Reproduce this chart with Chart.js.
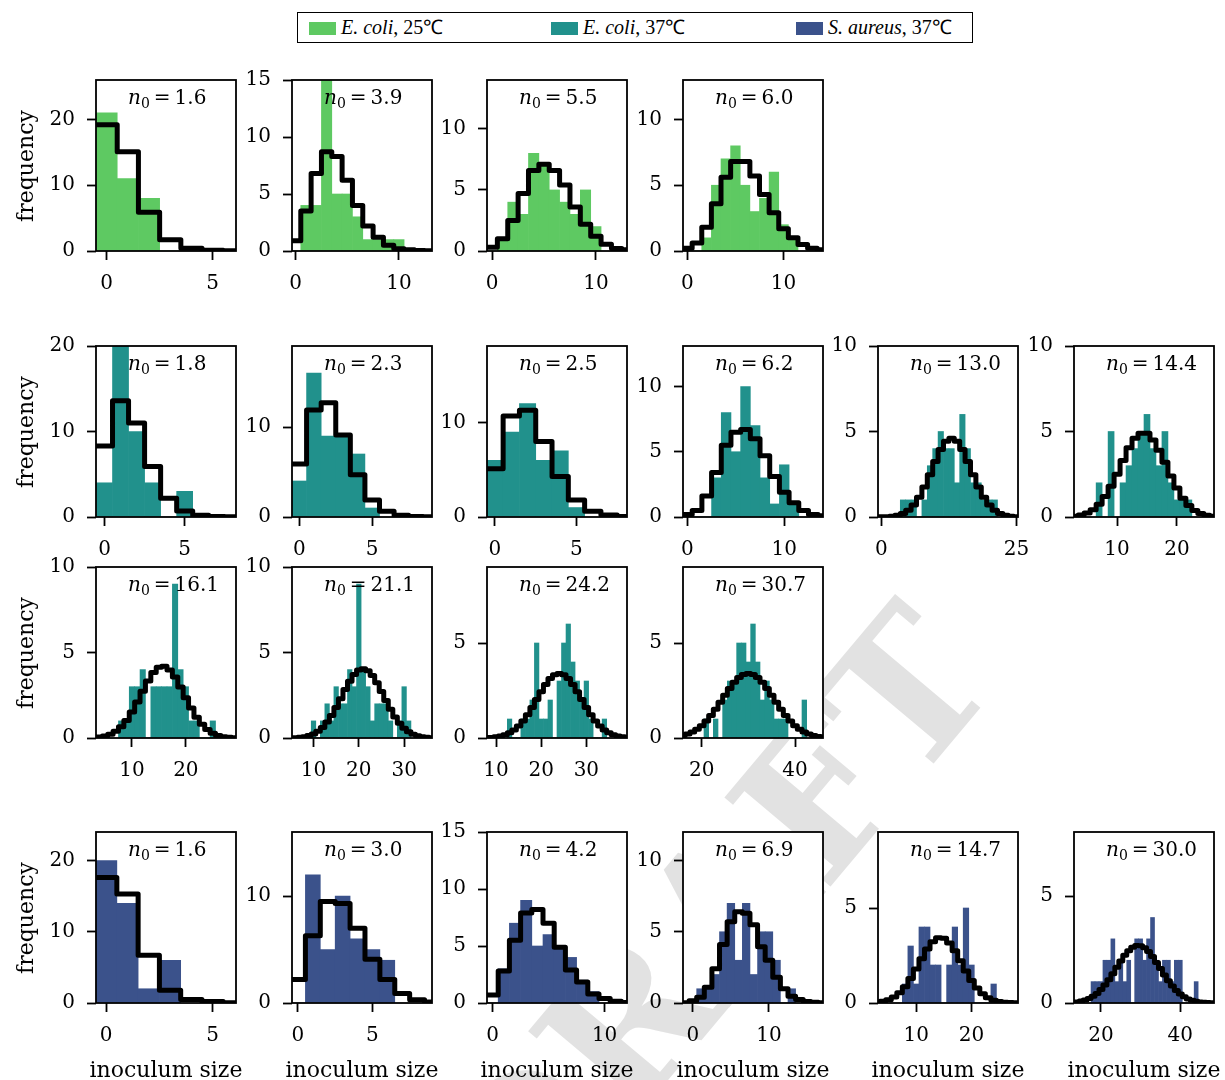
<!DOCTYPE html>
<html>
<head>
<meta charset="utf-8">
<script src="https://cdn.jsdelivr.net/npm/chart.js@4.4.1/dist/chart.umd.min.js"></script>
<style>
  html, body { margin: 0; padding: 0; background: #fff; }
  body { width: 1225px; height: 1080px; position: relative; overflow: hidden; font-family: "DejaVu Serif", serif; color: #000; }
  #watermark { position: absolute; left: 712px; top: 925px; transform: translate(-50%, -50%) rotate(-50deg);
               font: bold 190px "DejaVu Serif", serif; color: #e2e2e2; white-space: nowrap; line-height: 1; z-index: 0; }
  canvas.panel { position: absolute; z-index: 1; }
  .ylab { position: absolute; left: 25px; transform: translate(-50%, -50%) rotate(-90deg); font-size: 22px; white-space: nowrap; z-index: 2; }
  .xlab { position: absolute; top: 1069px; transform: translate(-50%, -50%); font-size: 22px; white-space: nowrap; z-index: 2; }
  #legend { position: absolute; left: 297px; top: 12px; width: 674px; height: 29px; border: 1.6px solid #000; background: #fff; z-index: 2;
            font-family: "Liberation Serif", serif; font-size: 20px; }
  #legend .item { position: absolute; top: 0; height: 29px; line-height: 29px; white-space: nowrap; }
  #legend .sw { display: inline-block; width: 27px; height: 13px; vertical-align: -1px; margin-right: 5px; }
</style>
</head>
<body>
<div id="watermark">DRAFT</div>
<div id="legend"></div>

<script>
// E. coli, 25 C  (row 1)
const ecoli25N0 = [1.6, 3.9, 5.5, 6.0];
const ecoli25CountStart = [0, 0, 0, 0];
const ecoli25Counts = [
  [21, 11, 8, 0],
  [0, 4, 4, 15, 5, 5, 3, 1, 1, 1, 1],
  [0, 1, 4, 3, 8, 7, 5, 4, 3, 5, 2],
  [0, 0, 1, 5, 7, 8, 5, 3, 4, 6, 2, 1]
];
const ecoli25FitStart = [0, 0, 0, 0];
const ecoli25Fit = [
  [19.2, 15.1, 5.9, 1.7, 0.4, 0.1, 0.05],
  [0.9, 3.5, 6.8, 8.7, 8.3, 6.2, 4.0, 2.2, 1.2, 0.5, 0.2, 0.1, 0.05, 0.02],
  [0.3, 1.0, 2.5, 4.7, 6.6, 7.1, 6.6, 5.4, 3.6, 2.2, 1.2, 0.55, 0.2, 0.1],
  [0.2, 0.6, 1.8, 3.6, 5.6, 6.8, 6.8, 5.7, 4.3, 2.9, 1.7, 1.0, 0.5, 0.2, 0.1]
];
const ecoli25XRange = [[-0.5, 6.1], [-0.35, 13.2], [-0.5, 13.0], [-0.45, 14.1]];
const ecoli25YMax = [26, 15, 14, 13];
const ecoli25XTicks = [[0, 5], [0, 10], [0, 10], [0, 10]];
const ecoli25YTicks = [[0, 10, 20], [0, 5, 10, 15], [0, 5, 10], [0, 5, 10]];

// E. coli, 37 C  (rows 2 and 3)
const ecoli37N0 = [1.8, 2.3, 2.5, 6.2, 13.0, 14.4, 16.1, 21.1, 24.2, 30.7];
const ecoli37CountStart = [0, 0, 0, 0, 4, 7, 8, 10, 13, 21];
const ecoli37Counts = [
  [4, 20, 10, 4, 0, 3],
  [4, 16, 9, 9, 7, 1],
  [6, 9, 12, 6, 7, 1],
  [0, 0, 0, 3, 8, 5, 10, 7, 3, 1, 4, 1],
  [1, 1, 1, 0, 1, 3, 4, 5, 4, 4, 2, 6, 4, 2, 2, 1, 1, 1],
  [2, 0, 5, 0, 2, 3, 4, 5, 6, 4, 3, 5, 2, 1, 1, 1],
  [1, 1, 3, 3, 4, 0, 3, 3, 3, 3, 9, 4, 3, 1, 1, 0, 0, 1],
  [1, 0, 1, 2, 1, 3, 2, 2, 4, 3, 9, 4, 3, 1, 2, 2, 2, 1, 0, 1, 3, 1],
  [1, 0, 0, 1, 1, 2, 5, 1, 1, 2, 0, 3, 5, 6, 4, 3, 2, 3, 1, 0, 0, 1],
  [1, 0, 1, 0, 2, 3, 3, 5, 5, 4, 6, 4, 2, 3, 2, 1, 1, 1, 0, 0, 0, 2]
];
const ecoli37FitStart = [0, 0, 0, 0, 0, 3, 4, 6, 8, 16];
const ecoli37Fit = [
  [8.3, 13.6, 11.0, 5.9, 2.2, 0.7, 0.2, 0.05, 0.02],
  [5.9, 11.9, 12.7, 9.1, 4.7, 1.9, 0.65, 0.2, 0.05, 0.02],
  [5.1, 10.7, 11.3, 8.0, 4.3, 1.8, 0.6, 0.2, 0.05],
  [0.2, 0.5, 1.6, 3.4, 5.5, 6.5, 6.7, 6.0, 4.7, 3.1, 1.9, 1.1, 0.5, 0.2, 0.1],
  [0.01, 0.02, 0.04, 0.10, 0.20, 0.39, 0.70, 1.15, 1.76, 2.47, 3.24, 3.95, 4.43, 4.6, 4.43, 3.95, 3.24, 2.47, 1.76, 1.15, 0.70, 0.39, 0.20, 0.10, 0.04, 0.02],
  [0.05, 0.12, 0.23, 0.43, 0.75, 1.2, 1.8, 2.5, 3.3, 4.05, 4.6, 4.9, 4.9, 4.5, 3.9, 3.2, 2.4, 1.7, 1.1, 0.67, 0.38, 0.2, 0.1, 0.05],
  [0.06, 0.12, 0.22, 0.39, 0.66, 1.03, 1.52, 2.1, 2.74, 3.34, 3.83, 4.14, 4.19, 3.98, 3.56, 2.98, 2.35, 1.75, 1.22, 0.80, 0.49, 0.28, 0.15, 0.08, 0.04, 0.02],
  [0.02, 0.04, 0.08, 0.14, 0.24, 0.40, 0.62, 0.93, 1.32, 1.78, 2.29, 2.83, 3.32, 3.72, 3.97, 4.05, 3.94, 3.65, 3.23, 2.72, 2.19, 1.68, 1.23, 0.86, 0.57, 0.36, 0.22, 0.13, 0.07, 0.04, 0.02],
  [0.02, 0.03, 0.06, 0.10, 0.17, 0.27, 0.42, 0.63, 0.90, 1.23, 1.61, 2.02, 2.44, 2.82, 3.13, 3.33, 3.4, 3.33, 3.13, 2.82, 2.44, 2.02, 1.61, 1.23, 0.90, 0.63, 0.42, 0.27, 0.17, 0.10, 0.06, 0.03],
  [0.13, 0.21, 0.31, 0.46, 0.65, 0.89, 1.18, 1.51, 1.88, 2.25, 2.61, 2.93, 3.18, 3.34, 3.4, 3.34, 3.18, 2.93, 2.61, 2.25, 1.88, 1.51, 1.18, 0.89, 0.65, 0.46, 0.31, 0.21, 0.13, 0.08, 0.05]
];
const ecoli37XRange = [[-0.53, 8.2], [-0.5, 9.1], [-0.49, 8.1], [-0.45, 14.0], [-0.63, 25.3], [2.8, 26.2], [3.33, 29.3], [5.25, 36.15], [8.0, 39.0], [16.0, 46.0]];
const ecoli37YMax = [20, 19, 18.1, 13.1, 10, 10, 10, 10, 9, 9];
const ecoli37XTicks = [[0, 5], [0, 5], [0, 5], [0, 10], [0, 25], [10, 20], [10, 20], [10, 20, 30], [10, 20, 30], [20, 40]];
const ecoli37YTicks = [[0, 10, 20], [0, 10], [0, 10], [0, 5, 10], [0, 5, 10], [0, 5, 10], [0, 5, 10], [0, 5, 10], [0, 5], [0, 5]];

// S. aureus, 37 C  (row 4)
const saureusN0 = [1.6, 3.0, 4.2, 6.9, 14.7, 30.0];
const saureusCountStart = [0, 0, 0, 0, 8, 18];
const saureusCounts = [
  [20, 14, 2, 6],
  [0, 12, 5, 10, 6, 5, 4],
  [0, 3, 7, 9, 5, 6, 5, 4, 2, 1],
  [0, 1, 1, 2, 5, 7, 3, 7, 2, 5, 5, 3, 0, 1],
  [1, 3, 1, 4, 4, 2, 2, 0, 2, 4, 2, 5, 2, 0, 0, 0, 1],
  [1, 1, 1, 2, 2, 3, 1, 2, 1, 2, 0, 3, 3, 2, 3, 4, 2, 1, 2, 2, 1, 2, 2, 0, 0, 0, 1]
];
const saureusFitStart = [0, 0, 0, -1, 3, 13];
const saureusFit = [
  [17.6, 15.3, 6.7, 1.8, 0.5, 0.2, 0.05],
  [2.2, 6.3, 9.5, 9.3, 7.0, 4.1, 2.2, 0.9, 0.3, 0.1],
  [0.7, 2.8, 5.5, 7.9, 8.2, 7.0, 4.9, 2.9, 1.85, 0.8, 0.4, 0.15, 0.05],
  [0.02, 0.15, 0.4, 1.1, 2.4, 4.1, 5.7, 6.4, 6.3, 5.5, 3.95, 3.0, 1.8, 1.0, 0.47, 0.24, 0.1, 0.05, 0.02],
  [0.04, 0.09, 0.17, 0.32, 0.54, 0.86, 1.29, 1.79, 2.33, 2.84, 3.23, 3.43, 3.41, 3.16, 2.75, 2.22, 1.69, 1.19, 0.79, 0.49, 0.28, 0.15, 0.08, 0.04, 0.02, 0.01],
  [0.03, 0.05, 0.09, 0.14, 0.21, 0.31, 0.45, 0.63, 0.84, 1.09, 1.37, 1.67, 1.96, 2.23, 2.45, 2.61, 2.69, 2.68, 2.59, 2.41, 2.18, 1.90, 1.61, 1.31, 1.04, 0.80, 0.59, 0.42, 0.29, 0.19, 0.13, 0.08, 0.05, 0.03, 0.02, 0.01]
];
const saureusXRange = [[-0.48, 6.1], [-0.4, 9.0], [-0.5, 12.0], [-1.3, 17.1], [3.1, 28.4], [13.2, 48.5]];
const saureusYMax = [24, 16, 15, 12, 9, 8];
const saureusXTicks = [[0, 5], [0, 5], [0, 10], [0, 10], [10, 20], [20, 40]];
const saureusYTicks = [[0, 10, 20], [0, 10], [0, 5, 10, 15], [0, 5, 10], [0, 5], [0, 5]];

const seriesNames = ['E. coli', 'E. coli', 'S. aureus'];
const seriesTemps = ['25℃', '37℃', '37℃'];
const seriesColors = ['#5ec962', '#21918c', '#3b528b'];

// layout of the grid (pixel boxes of each axes)
const colLeft = [96, 292, 487, 683, 878, 1074];
const rowTop = [80, 346, 567, 832];
const boxW = 140, boxH = 171;
const padL = 60, padT = 12, padR = 14, padB = 45;

Chart.defaults.font.family = '"DejaVu Serif", serif';
Chart.defaults.font.size = 20;
Chart.defaults.color = '#000';

const panelFrame = {
  id: 'panelFrame',
  beforeDraw(chart) {
    const a = chart.chartArea, ctx = chart.ctx;
    ctx.save();
    ctx.fillStyle = '#fff';
    ctx.fillRect(a.left, a.top, a.width, a.height);
    ctx.restore();
  },
  afterDraw(chart, args, opts) {
    const a = chart.chartArea, ctx = chart.ctx;
    ctx.save();
    ctx.strokeStyle = '#000';
    ctx.lineWidth = 1.8;
    ctx.strokeRect(a.left, a.top, a.width, a.height);
    // n0 label
    let x = a.left + 32, y = a.top + 24;
    ctx.fillStyle = '#000';
    ctx.textBaseline = 'alphabetic';
    ctx.textAlign = 'left';
    ctx.font = 'italic 20px "DejaVu Serif"';
    ctx.fillText('n', x, y);
    x += ctx.measureText('n').width;
    ctx.font = '14px "DejaVu Serif"';
    ctx.fillText('0', x, y + 4);
    x += ctx.measureText('0').width + 4;
    ctx.font = '20px "DejaVu Serif"';
    ctx.fillText('=', x, y);
    x += ctx.measureText('=').width + 4;
    ctx.fillText(opts.n0.toFixed(1), x, y);
    ctx.restore();
  }
};

function makePanel(row, col, color, n0, counts, countStart, fit, fitStart, xr, ymax, xt, yt) {
  const canvas = document.createElement('canvas');
  canvas.className = 'panel';
  canvas.width = padL + boxW + padR;
  canvas.height = padT + boxH + padB;
  canvas.style.left = (colLeft[col] - padL) + 'px';
  canvas.style.top = (rowTop[row] - padT) + 'px';
  document.body.appendChild(canvas);

  const bars = counts.map((c, i) => ({ x: countStart + i, y: c }));
  const step = fit.map((v, i) => ({ x: fitStart + i, y: v }));
  if (fitStart > xr[0]) step.unshift({ x: xr[0], y: fit[0] });
  if (fitStart + fit.length - 1 < xr[1]) step.push({ x: xr[1], y: fit[fit.length - 1] });

  new Chart(canvas.getContext('2d'), {
    type: 'bar',
    data: {
      datasets: [
        {
          type: 'line',
          data: step,
          stepped: 'middle',
          borderColor: '#000',
          borderWidth: 5,
          borderJoinStyle: 'round',
          pointRadius: 0,
          fill: false,
          clip: 0,
          order: 0
        },
        {
          type: 'bar',
          data: bars,
          backgroundColor: color,
          borderWidth: 0,
          barPercentage: 1,
          categoryPercentage: 1,
          order: 1
        }
      ]
    },
    options: {
      responsive: false,
      animation: false,
      devicePixelRatio: 1,
      layout: { padding: { left: 0, top: padT, right: padR, bottom: 0 } },
      scales: {
        x: {
          type: 'linear',
          offset: false,
          min: xr[0],
          max: xr[1],
          afterBuildTicks: s => { s.ticks = xt.map(v => ({ value: v })); },
          afterFit: s => { s.height = padB; s.paddingLeft = 0; s.paddingRight = 0; },
          grid: { offset: false, drawOnChartArea: false, drawTicks: true, tickLength: 9, tickWidth: 1.8, tickColor: '#000' },
          border: { display: false },
          ticks: { padding: 12, maxRotation: 0, autoSkip: false }
        },
        y: {
          min: 0,
          max: ymax,
          afterBuildTicks: s => { s.ticks = yt.map(v => ({ value: v })); },
          afterFit: s => { s.width = padL; s.paddingTop = 0; s.paddingBottom = 0; },
          grid: { drawOnChartArea: false, drawTicks: true, tickLength: 9, tickWidth: 1.8, tickColor: '#000' },
          border: { display: false },
          ticks: { padding: 12, autoSkip: false }
        }
      },
      plugins: {
        legend: { display: false },
        tooltip: { enabled: false },
        panelFrame: { n0: n0 }
      }
    },
    plugins: [panelFrame]
  });
}

// row 1
for (let i = 0; i < 4; i++) {
  makePanel(0, i, seriesColors[0], ecoli25N0[i], ecoli25Counts[i], ecoli25CountStart[i], ecoli25Fit[i], ecoli25FitStart[i],
            ecoli25XRange[i], ecoli25YMax[i], ecoli25XTicks[i], ecoli25YTicks[i]);
}
// rows 2 and 3
for (let i = 0; i < 10; i++) {
  const row = i < 6 ? 1 : 2, col = i < 6 ? i : i - 6;
  makePanel(row, col, seriesColors[1], ecoli37N0[i], ecoli37Counts[i], ecoli37CountStart[i], ecoli37Fit[i], ecoli37FitStart[i],
            ecoli37XRange[i], ecoli37YMax[i], ecoli37XTicks[i], ecoli37YTicks[i]);
}
// row 4
for (let i = 0; i < 6; i++) {
  makePanel(3, i, seriesColors[2], saureusN0[i], saureusCounts[i], saureusCountStart[i], saureusFit[i], saureusFitStart[i],
            saureusXRange[i], saureusYMax[i], saureusXTicks[i], saureusYTicks[i]);
}

// axis labels
rowTop.forEach(t => {
  const d = document.createElement('div');
  d.className = 'ylab';
  d.style.top = (t + boxH / 2) + 'px';
  d.textContent = 'frequency';
  document.body.appendChild(d);
});
colLeft.forEach(l => {
  const d = document.createElement('div');
  d.className = 'xlab';
  d.style.left = (l + boxW / 2) + 'px';
  d.textContent = 'inoculum size';
  document.body.appendChild(d);
});

// legend
const legend = document.getElementById('legend');
const legendX = [11, 253, 498];
seriesNames.forEach((name, i) => {
  const item = document.createElement('span');
  item.className = 'item';
  item.style.left = legendX[i] + 'px';
  const sw = document.createElement('i');
  sw.className = 'sw';
  sw.style.background = seriesColors[i];
  const em = document.createElement('em');
  em.textContent = name;
  item.appendChild(sw);
  item.appendChild(em);
  item.appendChild(document.createTextNode(', ' + seriesTemps[i]));
  legend.appendChild(item);
});
</script>
</body>
</html>
